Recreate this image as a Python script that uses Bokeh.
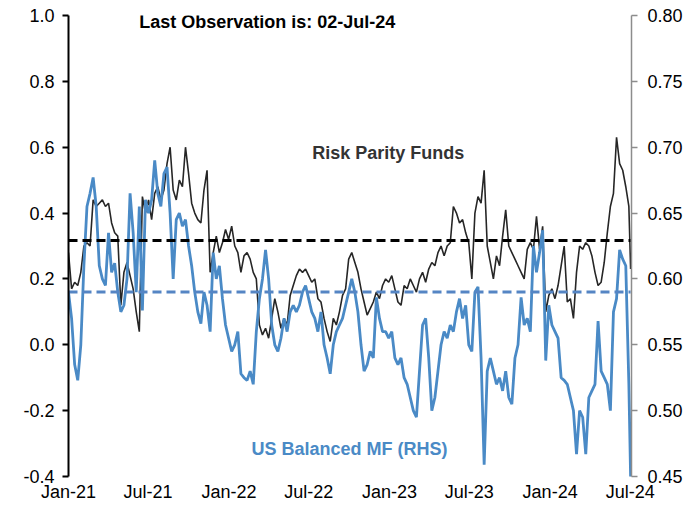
import pandas as pd
from bokeh.plotting import figure
from bokeh.models import Range1d, LinearAxis, FixedTicker, Label, PrintfTickFormatter, DatetimeTickFormatter
from bokeh.embed import file_html
from bokeh.resources import INLINE

# ---------------- data ----------------
week_starts = list(pd.date_range("2021-01-01", periods=183, freq="7D"))
last_obs = pd.Timestamp("2024-07-02")
dates = week_starts + [last_obs]

risk_parity = [
    0.28, 0.17, 0.19, 0.18, 0.22, 0.30, 0.31, 0.30, 0.44, 0.42,
    0.43, 0.44, 0.42, 0.43, 0.37, 0.34, 0.33, 0.12, 0.22, 0.25,
    0.21, 0.17, 0.10, 0.04, 0.45, 0.40, 0.44, 0.38, 0.46, 0.48,
    0.44, 0.47, 0.55, 0.60, 0.47, 0.44, 0.50, 0.48, 0.60, 0.52,
    0.43, 0.40, 0.38, 0.37, 0.47, 0.53, 0.22, 0.28, 0.33, 0.28,
    0.31, 0.35, 0.32, 0.36, 0.30, 0.28, 0.22, 0.27, 0.28, 0.26,
    0.22, 0.20, 0.06, 0.03, 0.05, 0.02, 0.08, 0.14, 0.10, 0.05,
    0.08, 0.06, 0.15, 0.18, 0.21, 0.23, 0.22, 0.23, 0.21, 0.19,
    0.20, 0.14, 0.13, 0.08, 0.04, 0.01, 0.08, 0.06, 0.10, 0.15,
    0.17, 0.26, 0.28, 0.25, 0.22, 0.17, 0.13, 0.09, 0.11, 0.13,
    0.16, 0.14, 0.18, 0.20, 0.19, 0.21, 0.17, 0.13, 0.12, 0.18,
    0.17, 0.20, 0.18, 0.16, 0.20, 0.22, 0.19, 0.23, 0.25, 0.24,
    0.28, 0.30, 0.27, 0.30, 0.31, 0.42, 0.40, 0.37, 0.38, 0.34,
    0.31, 0.20, 0.40, 0.45, 0.43, 0.53, 0.30, 0.25, 0.20, 0.27,
    0.24, 0.33, 0.41, 0.30, 0.28, 0.26, 0.24, 0.22, 0.20, 0.29,
    0.31, 0.29, 0.39, 0.29, 0.36, 0.10, 0.15, 0.17, 0.14, 0.18,
    0.24, 0.30, 0.13, 0.14, 0.08, 0.22, 0.30, 0.29, 0.31, 0.30,
    0.27, 0.22, 0.18, 0.19, 0.25, 0.34, 0.42, 0.46, 0.63, 0.55,
    0.53, 0.48, 0.42, 0.23,
]

us_balanced_mf = [
    0.59, 0.57, 0.535, 0.523, 0.55, 0.61, 0.655, 0.665, 0.677, 0.655,
    0.61, 0.60, 0.595, 0.635, 0.605, 0.612, 0.59, 0.575, 0.58, 0.60,
    0.665, 0.635, 0.59, 0.655, 0.576, 0.66, 0.65, 0.66, 0.69, 0.665,
    0.655, 0.68, 0.685, 0.65, 0.60, 0.645, 0.65, 0.64, 0.645, 0.625,
    0.61, 0.59, 0.575, 0.566, 0.59, 0.58, 0.56, 0.62, 0.60, 0.61,
    0.585, 0.565, 0.555, 0.545, 0.55, 0.56, 0.528, 0.525, 0.523, 0.53,
    0.52, 0.56, 0.585, 0.60, 0.622, 0.60, 0.565, 0.55, 0.545, 0.555,
    0.57, 0.56, 0.575, 0.58, 0.575, 0.58, 0.59, 0.595, 0.585, 0.575,
    0.57, 0.56, 0.575, 0.55, 0.54, 0.528, 0.55, 0.56, 0.565, 0.57,
    0.58, 0.59, 0.60, 0.59, 0.575, 0.55, 0.53, 0.535, 0.545, 0.54,
    0.586, 0.57, 0.56, 0.56, 0.555, 0.56, 0.54, 0.535, 0.54, 0.525,
    0.52, 0.51, 0.50, 0.495, 0.53, 0.565, 0.57, 0.54, 0.50, 0.51,
    0.53, 0.55, 0.56, 0.555, 0.565, 0.56, 0.575, 0.585, 0.57, 0.58,
    0.55, 0.545, 0.59, 0.594, 0.54, 0.459, 0.53, 0.54, 0.53, 0.52,
    0.525, 0.515, 0.53, 0.51, 0.505, 0.54, 0.55, 0.586, 0.565, 0.57,
    0.56, 0.625, 0.605, 0.62, 0.637, 0.538, 0.58, 0.565, 0.56, 0.555,
    0.525, 0.523, 0.52, 0.51, 0.50, 0.467, 0.50, 0.495, 0.467, 0.51,
    0.515, 0.52, 0.568, 0.53, 0.525, 0.52, 0.50, 0.575, 0.585, 0.622,
    0.615, 0.61, 0.52, 0.449,
]

risk_parity_avg = 0.317
us_balanced_avg = 0.59

left_ticks = [-0.4, -0.2, 0.0, 0.2, 0.4, 0.6, 0.8, 1.0]
right_ticks = [0.45, 0.50, 0.55, 0.60, 0.65, 0.70, 0.75, 0.80]
x_tick_dates = ["2021-01-01", "2021-07-01", "2022-01-01", "2022-07-01",
                "2023-01-01", "2023-07-01", "2024-01-01", "2024-07-01"]
x_tick_labels = ["Jan-21", "Jul-21", "Jan-22", "Jul-22",
                 "Jan-23", "Jul-23", "Jan-24", "Jul-24"]

# ---------------- style ----------------
FONT = "Liberation Sans"
BLACK = "#262626"
BLUE = "#4A8AC6"
BLUE_DASH = "#5585C4"


def ms(d):
    return float(pd.Timestamp(d).value // 10**6)


x_start = pd.Timestamp("2021-01-01")
x_end = pd.Timestamp("2024-07-04")

p = figure(width=686, height=504, x_axis_type="datetime",
           x_range=Range1d(x_start, x_end), y_range=Range1d(-0.4, 1.0),
           output_backend="svg", toolbar_location=None,
           min_border_left=68, min_border_right=55, min_border_top=15, min_border_bottom=27)
p.outline_line_color = None
p.xgrid.visible = False
p.ygrid.visible = False
p.background_fill_color = "white"
p.border_fill_color = "white"

p.extra_y_ranges = {"rhs": Range1d(0.45, 0.80)}

# lines
p.line(dates, risk_parity, line_color=BLACK, line_width=1.6)
p.line(dates, us_balanced_mf, line_color=BLUE, line_width=2.8, y_range_name="rhs")
p.line([dates[0], dates[-1]], [risk_parity_avg, risk_parity_avg],
       line_color="black", line_width=3, line_dash="9 5")
p.line([dates[0], dates[-1]], [us_balanced_avg, us_balanced_avg],
       line_color=BLUE_DASH, line_width=3, line_dash="9 5", y_range_name="rhs")

# x axis
tick_ms = [int(pd.Timestamp(d).value // 10**6) for d in x_tick_dates]
xa = p.xaxis[0]
xa.ticker = FixedTicker(ticks=tick_ms)
xa.formatter = DatetimeTickFormatter(months="%b-%y", days="%b-%y", years="%b-%y")
xa.major_label_overrides = {t: l for t, l in zip(tick_ms, x_tick_labels)}
xa.axis_line_color = None
xa.major_tick_line_color = None
xa.minor_tick_line_color = None
xa.major_tick_out = 0
xa.major_tick_in = 0
xa.major_label_standoff = 5
xa.major_label_text_font = FONT
xa.major_label_text_font_size = "18px"
xa.major_label_text_color = "black"

# left axis
ya = p.yaxis[0]
ya.ticker = FixedTicker(ticks=left_ticks)
ya.formatter = PrintfTickFormatter(format="%.1f")
ya.axis_line_color = "black"
ya.axis_line_width = 2
ya.major_tick_line_color = "black"
ya.major_tick_line_width = 2
ya.major_tick_out = 6
ya.major_tick_in = 0
ya.minor_tick_line_color = None
ya.major_label_standoff = 8
ya.major_label_text_font = FONT
ya.major_label_text_font_size = "18px"
ya.major_label_text_color = "black"

# right axis
ra = LinearAxis(y_range_name="rhs")
ra.ticker = FixedTicker(ticks=right_ticks)
ra.formatter = PrintfTickFormatter(format="%.2f")
ra.axis_line_color = "#8C8C8C"
ra.axis_line_width = 1.5
ra.major_tick_line_color = "#8C8C8C"
ra.major_tick_line_width = 1.5
ra.major_tick_out = 6
ra.major_tick_in = 0
ra.minor_tick_line_color = None
ra.major_label_standoff = 10
ra.major_label_text_font = FONT
ra.major_label_text_font_size = "18px"
ra.major_label_text_color = "black"
p.add_layout(ra, "right")

# annotations
p.add_layout(Label(x=ms("2022-03-29"), y=0.979, text="Last Observation is: 02-Jul-24",
                   text_font=FONT, text_font_size="18px", text_font_style="bold",
                   text_color="black", text_align="center", text_baseline="middle"))
p.add_layout(Label(x=ms("2022-12-29"), y=0.582, text="Risk Parity Funds",
                   text_font=FONT, text_font_size="18px", text_font_style="bold",
                   text_color="#333333", text_align="center", text_baseline="middle"))
p.add_layout(Label(x=ms("2022-10-02"), y=-0.317, text="US Balanced MF (RHS)",
                   text_font=FONT, text_font_size="18px", text_font_style="bold",
                   text_color=BLUE, text_align="center", text_baseline="middle"))

open("out.html", "w").write(file_html(p, INLINE))
